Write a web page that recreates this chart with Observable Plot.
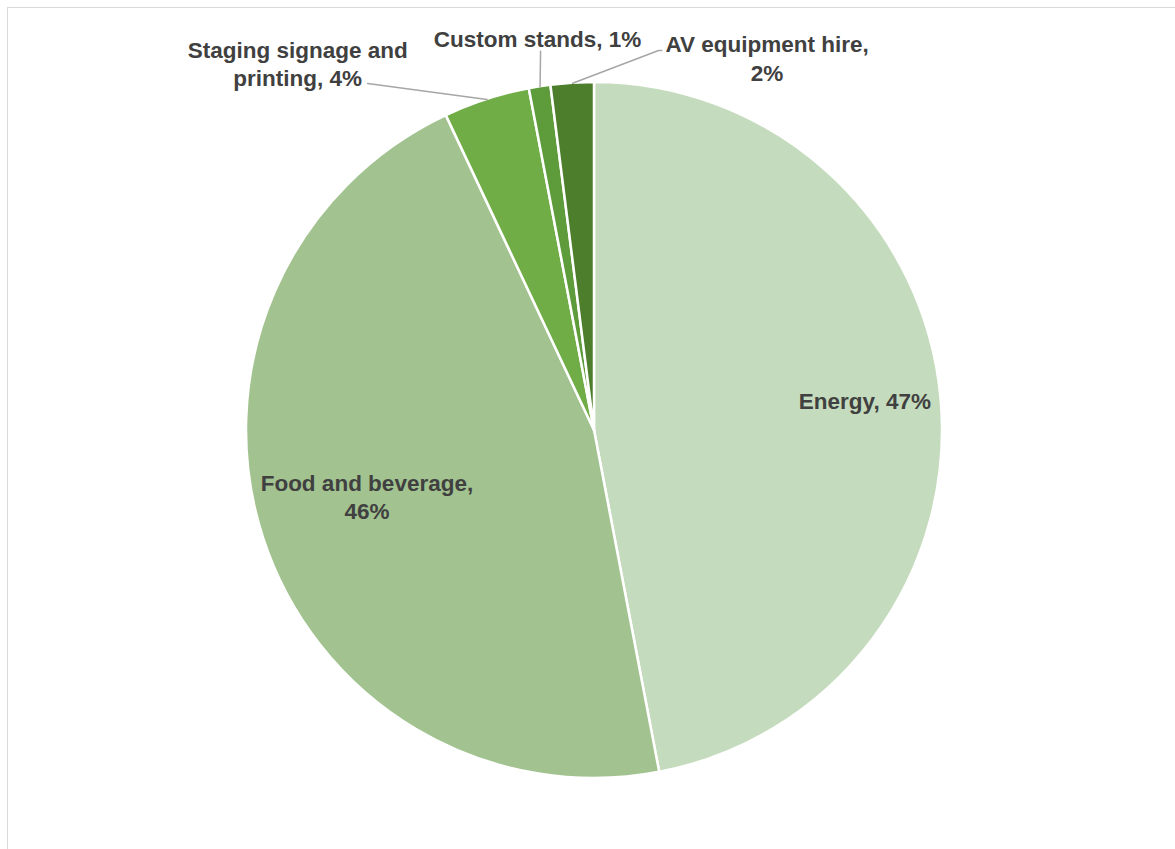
<!DOCTYPE html>
<html>
<head>
<meta charset="utf-8">
<script src="https://cdn.jsdelivr.net/npm/d3@7"></script>
<script src="https://cdn.jsdelivr.net/npm/@observablehq/plot@0.6"></script>
<style>
  html, body { margin: 0; padding: 0; background: #ffffff; overflow: hidden; }
  #chart { position: absolute; left: 0; top: 0; }
  #frame { position: absolute; left: 7px; top: 7px; width: 1200px; height: 900px;
           border: 1px solid #d9d9d9; pointer-events: none; }
</style>
</head>
<body>
<div id="chart"></div>
<div id="frame"></div>
<script>
// ---- data ----
const categories = ["Energy", "Food and beverage", "Staging signage and printing", "Custom stands", "AV equipment hire"];
const shares = [47, 46, 4, 1, 2];
const labelTexts = ["Energy, 47%", "Food and beverage,\n46%", "Staging signage and\nprinting, 4%", "Custom stands, 1%", "AV equipment hire,\n2%"];
const sliceColors = ["#c5dbbd", "#a2c390", "#70ad47", "#5e9c3b", "#4d7e2c"];

// ---- layout (pixels / radius units) ----
const W = 1175, H = 849, CX = 594, CY = 430, R = 348;
const labelLayout = {   // label centre, in pie-radius units relative to the centre (y up)
  "Energy": {x: 0.777, y: 0.089},
  "Food and beverage": {x: -0.654, y: -0.187},
  "Staging signage and printing": {x: -0.853, y: 1.055},
  "Custom stands": {x: -0.164, y: 1.129},
  "AV equipment hire": {x: 0.496, y: 1.072}
};
const leaderLayout = {  // leader points from label end toward the slice edge
  "Staging signage and printing": [{x: -0.652, y: 0.997}],
  "Custom stands": [{x: -0.155, y: 1.090}],
  "AV equipment hire": [{x: 0.193, y: 1.092}, {x: 0.184, y: 1.092}]
};

const pieData = categories.map((c, i) => ({category: c, share: shares[i], label: labelTexts[i]}));
const arcs = d3.pie().sort(null).value(d => d.share)(pieData);
const mid = a => (a.startAngle + a.endAngle) / 2;

const labels = arcs.map(a => ({...labelLayout[a.data.category], text: a.data.label}));
const leaders = [];
for (const a of arcs) {
  const pts = leaderLayout[a.data.category];
  if (!pts) continue;
  pts.forEach(p => leaders.push({key: a.data.category, x: p.x, y: p.y}));
  leaders.push({key: a.data.category, x: Math.sin(mid(a)) * 1.0, y: Math.cos(mid(a)) * 1.0});
}

function pieSlices(index, scales) {
  const cx = scales.x(0), cy = scales.y(0);
  const r = Math.abs(scales.x(1) - scales.x(0));
  const color = scales.color ?? d3.scaleOrdinal(categories, sliceColors);
  const arc = d3.arc().innerRadius(0).outerRadius(r);
  const g = d3.create("svg:g").attr("transform", `translate(${cx},${cy})`);
  g.selectAll("path").data(arcs).join("path")
    .attr("d", arc)
    .attr("fill", d => color(d.data.category))
    .attr("stroke", "#ffffff")
    .attr("stroke-width", 2.5)
    .attr("stroke-linejoin", "round");
  return g.node();
}

const chart = Plot.plot({
  width: W,
  height: H,
  margin: 0,
  style: {background: "transparent"},
  x: {domain: [(0 - CX) / R, (W - CX) / R], range: [0, W], axis: null},
  y: {domain: [(CY - H) / R, CY / R], range: [H, 0], axis: null},
  color: {domain: categories, range: sliceColors},
  marks: [
    pieSlices,
    Plot.line(leaders, {x: "x", y: "y", z: "key", stroke: "#a6a6a6", strokeWidth: 1.5}),
    Plot.text(labels, {
      x: "x", y: "y", text: "text",
      fontSize: 22.5, fontWeight: "bold", fill: "#404040",
      fontFamily: "'Liberation Sans', Arial, sans-serif",
      lineHeight: 1.25
    })
  ]
});
document.getElementById("chart").append(chart);
</script>
</body>
</html>
